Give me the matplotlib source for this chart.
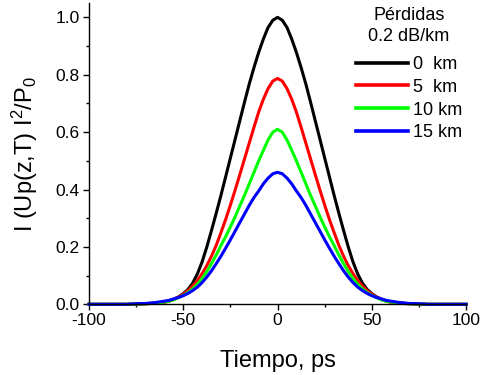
import matplotlib
matplotlib.use("Agg")
import matplotlib.pyplot as plt
from matplotlib.ticker import MultipleLocator, FormatStrFormatter

plt.rcParams["font.family"] = ["Liberation Sans", "DejaVu Sans"]
plt.rcParams["mathtext.fontset"] = "custom"
plt.rcParams["mathtext.rm"] = "Liberation Sans"
plt.rcParams["mathtext.default"] = "regular"
plt.rcParams["axes.unicode_minus"] = False

# half profile (T >= 0), pulses are symmetric around T = 0
t_half = [0, 2.5, 5, 7.5, 10, 12.5, 15, 17.5, 20, 22.5, 25, 27.5, 30, 32.5, 35, 37.5,
          40, 42.5, 45, 47.5, 50, 52.5, 55, 57.5, 60, 65, 70, 75, 80, 90, 100]

# normalised intensity |U|^2/P0, losses 0.2 dB/km
z0km = [1.0, 0.99, 0.965, 0.925, 0.878, 0.825, 0.768, 0.705, 0.64, 0.575, 0.51, 0.445,
        0.38, 0.318, 0.258, 0.2, 0.148, 0.106, 0.074, 0.052, 0.037, 0.026, 0.018, 0.012,
        0.008, 0.004, 0.002, 0.001, 0, 0, 0]
z5km = [0.787, 0.778, 0.752, 0.715, 0.67, 0.617, 0.562, 0.507, 0.452, 0.398, 0.346, 0.296,
        0.25, 0.206, 0.168, 0.135, 0.107, 0.083, 0.064, 0.048, 0.035, 0.025, 0.017, 0.011,
        0.007, 0.004, 0.002, 0.001, 0, 0, 0]
z10km = [0.61, 0.6, 0.573, 0.537, 0.5, 0.46, 0.42, 0.38, 0.343, 0.305, 0.27, 0.236,
         0.205, 0.172, 0.142, 0.114, 0.09, 0.07, 0.054, 0.041, 0.031, 0.023, 0.016, 0.011,
         0.008, 0.004, 0.002, 0.001, 0, 0, 0]
z15km = [0.46, 0.455, 0.44, 0.42, 0.395, 0.372, 0.345, 0.315, 0.285, 0.255, 0.225, 0.196,
         0.168, 0.142, 0.117, 0.095, 0.076, 0.06, 0.048, 0.038, 0.03, 0.024, 0.019, 0.014,
         0.011, 0.006, 0.003, 0.002, 0, 0, 0]

labels = ["0  km", "5  km", "10 km", "15 km"]
colors = ["#000000", "#ff0000", "#00ff00", "#0000ff"]


def full(vals):
    # mirror the half profile to negative times
    return vals[:0:-1] + vals


tiempo = [-t for t in t_half[:0:-1]] + t_half

fig = plt.figure(figsize=(4.81, 3.75), dpi=100)
ax = fig.add_axes([0.185, 0.1885, 0.784, 0.8035])

for y, lab, c in zip([z0km, z5km, z10km, z15km], labels, colors):
    ax.plot(tiempo, full(y), color=c, lw=2.2, label=lab, clip_on=False,
            solid_joinstyle="round")

ax.set_xlim(-100, 100)
ax.set_ylim(0, 1.05)
ax.xaxis.set_major_locator(MultipleLocator(50))
ax.xaxis.set_minor_locator(MultipleLocator(25))
ax.yaxis.set_major_locator(MultipleLocator(0.2))
ax.yaxis.set_minor_locator(MultipleLocator(0.1))
ax.yaxis.set_major_formatter(FormatStrFormatter("%.1f"))

for s in ["top", "right"]:
    ax.spines[s].set_visible(False)
for s in ["left", "bottom"]:
    ax.spines[s].set_linewidth(1.0)

ax.tick_params(which="major", direction="out", length=4.5, width=1.0,
               labelsize=12.5, pad=2)
ax.tick_params(which="minor", direction="out", length=2.5, width=1.0)

ax.set_xlabel("Tiempo, ps", fontsize=17)
ax.set_ylabel(r"I (Up(z,T) I$^2$/P$_0$", fontsize=17)
ax.xaxis.set_label_coords(0.5, -0.15)
ax.yaxis.set_label_coords(-0.13, 0.5)

leg = ax.legend(loc="upper right", bbox_to_anchor=(462 / 481, 1 - 7 / 375),
                bbox_transform=fig.transFigure, frameon=False, fontsize=13,
                title="Pérdidas\n0.2 dB/km", title_fontsize=13,
                handlelength=2.9, handletextpad=0.25, labelspacing=0.32,
                borderpad=0, borderaxespad=0)
leg.get_title().set_multialignment("center")
leg.get_title().set_linespacing(1.3)
leg._legend_box.sep = 8
for line in leg.get_lines():
    line.set_linewidth(2.6)

fig.savefig("out.png", dpi=100)
